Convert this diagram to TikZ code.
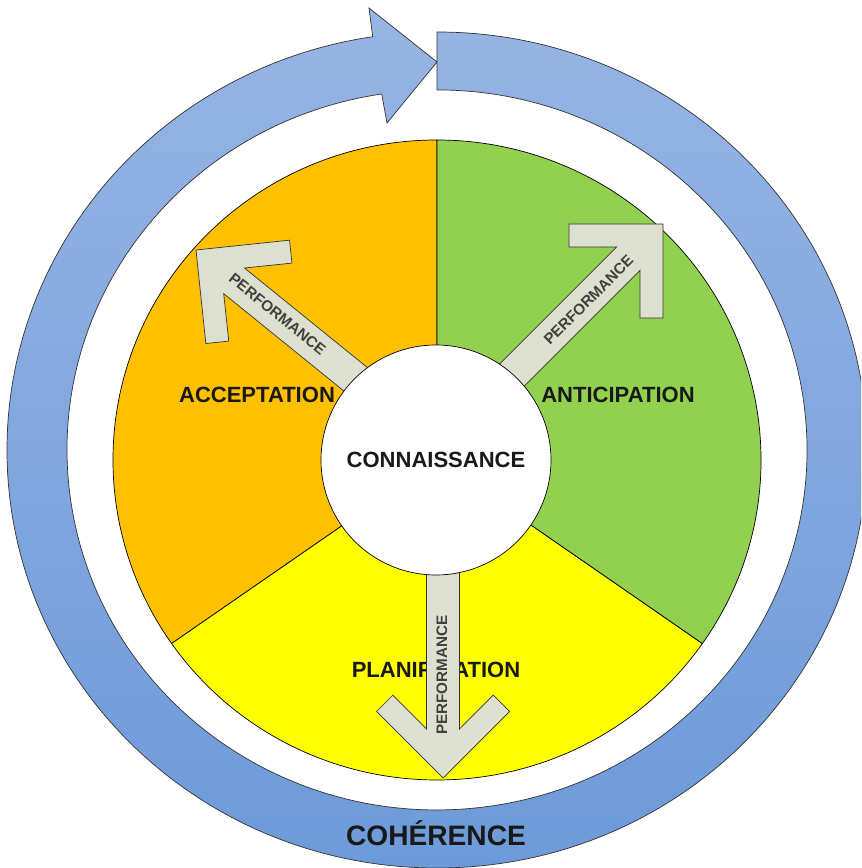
\documentclass[tikz,border=0pt]{standalone}
\usepackage{fontspec}
\setmainfont{Liberation Sans}
\usetikzlibrary{positioning}
\definecolor{ringtop}{HTML}{97B5E4}
\definecolor{ringbottom}{HTML}{6D9AD9}
\definecolor{acceptcol}{HTML}{FFC000}
\definecolor{anticipcol}{HTML}{92D050}
\definecolor{planifcol}{HTML}{FFFF00}
\definecolor{perfcol}{HTML}{DDE0CE}
\tikzset {
    sector/.style={
        draw=black,
        line width=0.6pt,
    },
    sector label/.style={
        font=\fontsize{18.8}{20}\selectfont\bfseries,
        text=black!90,
        inner sep=0pt,
    },
    center circle/.style={
        circle, % Set the shape as a circle
        draw=black,
        line width=0.6pt,
        fill=white,
        minimum size=6.9cm,
        inner sep=0pt,
        font=\fontsize{18.8}{20}\selectfont\bfseries,
        text=black!90,
    },
    perf text/.style={
        font=\fontsize{13}{14}\selectfont\bfseries,
        text=black!75,
        inner sep=0pt,
    },
    perf arrow/.pic={
        \filldraw[fill=perfcol, draw=black!80, line width=0.6pt]
            (0,0) -- (-66.5,66.5) -- (-82.8,50.2) -- (-49,16.5) -- (-225,16.5)
            -- (-225,-16.5) -- (-49,-16.5) -- (-82.8,-50.2) -- (-66.5,-66.5) -- cycle;
    },
}
\begin{document}
\begin{tikzpicture}[x=0.03cm, y=0.03cm]
    \useasboundingbox (0,0) rectangle (861,868);
    \clip (0,0) rectangle (861,868);
    % ring
    \shadedraw[top color=ringtop, bottom color=ringbottom, draw=black!80, line width=0.6pt]
        (437,836) arc[start angle=90, end angle=-261.4, x radius=430, y radius=418]
        -- (369,860) -- (437,806) -- (387,745) -- (381.7,774)
        arc[start angle=-261.4, end angle=90, x radius=370, y radius=360] -- cycle;
    % pie
    \filldraw[sector, fill=acceptcol] (437,408) -- ++(90:324 and 320)
        arc[start angle=90, end angle=215, x radius=324, y radius=320] -- cycle;
    \filldraw[sector, fill=planifcol] (437,408) -- ++(215:324 and 320)
        arc[start angle=215, end angle=325, x radius=324, y radius=320] -- cycle;
    \filldraw[sector, fill=anticipcol] (437,408) -- ++(325:324 and 320)
        arc[start angle=325, end angle=450, x radius=324, y radius=320] -- cycle;
    \node[sector label] (acceptation) at (257,473) {ACCEPTATION};
    \node[sector label] (anticipation) at (618,473) {ANTICIPATION};
    \node[sector label] (planification) at (436,198) {PLANIFICATION};
    % arrows
    \pic[rotate=141] at (196,618) {perf arrow};
    \pic[rotate=45] at (663,644) {perf arrow};
    \pic[rotate=-90] at (443,90) {perf arrow};
    \node[perf text, rotate=-39] (perf acc) at (277.5,554) {PERFORMANCE};
    \node[perf text, rotate=45] (perf ant) at (588.5,568) {PERFORMANCE};
    \node[perf text, rotate=90] (perf plan) at (442,193) {PERFORMANCE};
    \node[center circle] (connaissance) at (436,408) {CONNAISSANCE};
    \node[sector label, font=\fontsize{24}{26}\selectfont\bfseries, anchor=base] (coherence) at (436,23) {COHÉRENCE};
\end{tikzpicture}
\end{document}
